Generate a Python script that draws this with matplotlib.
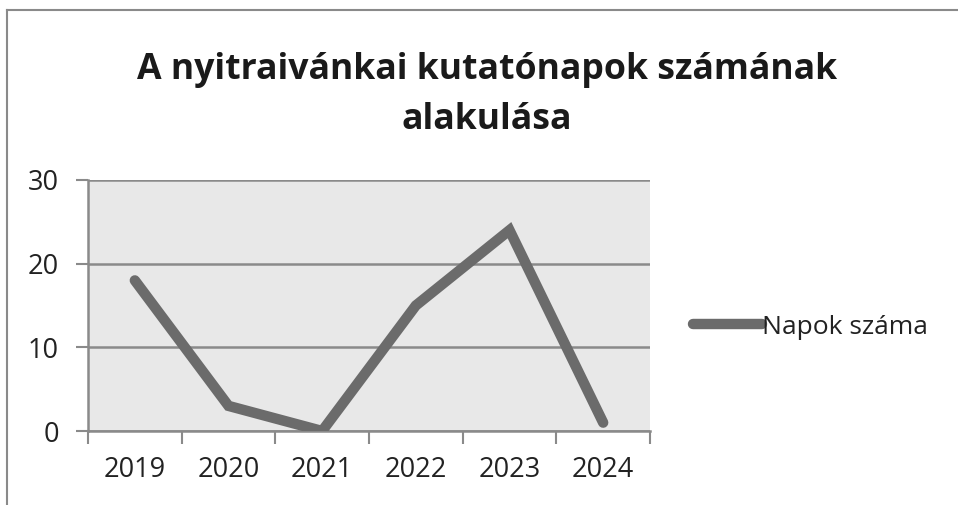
import matplotlib.pyplot as plt
from matplotlib.lines import Line2D

years = ['2019', '2020', '2021', '2022', '2023', '2024']
napok = [18, 3, 0, 15, 24, 1]

plt.rcParams['font.family'] = ['Open Sans', 'DejaVu Sans']

W, H = 958, 505
fig = plt.figure(figsize=(W / 100, H / 100), dpi=100)
ax = fig.add_axes([88 / W, 1 - 431 / H, (650 - 88) / W, (431 - 180) / H])

x = list(range(len(years)))
ax.plot(x, napok, color='#6b6b6b', lw=7.5, solid_capstyle='round',
        solid_joinstyle='miter', label='Napok száma', zorder=3)

ax.set_xlim(-0.5, len(years) - 0.5)
ax.set_ylim(0, 30)
ax.set_facecolor('#e8e8e8')
ax.set_yticks([0, 10, 20, 30])
ax.set_xticks(x)
ax.set_xticklabels(years)
ax.set_xticks([i - 0.5 for i in range(len(years) + 1)], minor=True)
ax.grid(axis='y', color='#8a8a8a', lw=1.8, zorder=1)
ax.tick_params(axis='x', which='major', length=0, pad=18, labelsize=19.5, colors='#222222')
ax.tick_params(axis='x', which='minor', length=9, width=1.5, color='#8a8a8a')
ax.tick_params(axis='y', length=9, width=1.5, color='#8a8a8a', pad=12,
               labelsize=19.5, labelcolor='#222222')
for s in ['top', 'right']:
    ax.spines[s].set_visible(False)
for s in ['left', 'bottom']:
    ax.spines[s].set_color('#8a8a8a')
    ax.spines[s].set_linewidth(1.8)

fig.text(487 / W, 1 - 95 / H, 'A nyitraivánkai kutatónapok számának\nalakulása',
         ha='center', va='center', fontsize=25.7, fontweight='bold',
         color='#1a1a1a', linespacing=1.5)

leg = ax.legend(loc='center left', bbox_to_anchor=(693 / W, 1 - 327 / H),
                bbox_transform=fig.transFigure, frameon=False, fontsize=19,
                handlelength=2.6, handletextpad=0.0, borderpad=0, borderaxespad=0)
for t in leg.get_texts():
    t.set_color('#222222')

# chart frame (only top and left edges visible)
fig.add_artist(Line2D([7 / W, 7 / W], [0, 1 - 10 / H], transform=fig.transFigure,
                      color='#8a8a8a', lw=1.5))
fig.add_artist(Line2D([7 / W, 1], [1 - 10 / H, 1 - 10 / H], transform=fig.transFigure,
                      color='#8a8a8a', lw=1.5))

fig.savefig('out.png', dpi=100)
